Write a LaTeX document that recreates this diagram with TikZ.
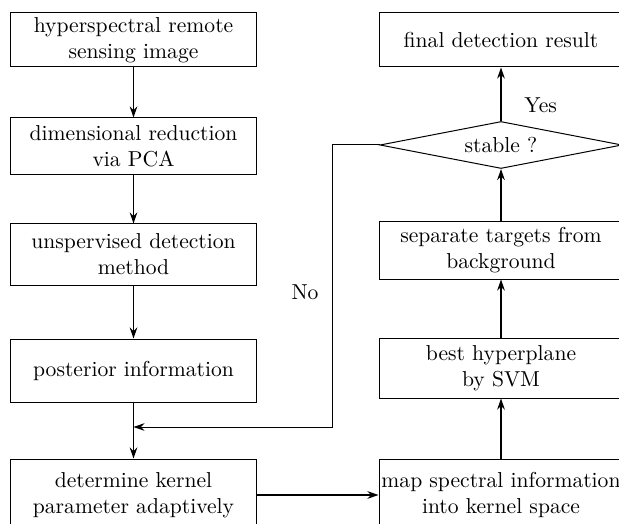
\documentclass[tikz,border=0pt]{standalone}
\usetikzlibrary{shapes.geometric,arrows.meta}

\begin{document}
\begin{tikzpicture}[x=0.5pt,y=-0.5pt,font=\fontsize{10.8}{13}\selectfont,
    box/.style={draw,line width=0.5pt,minimum width=123pt,align=center,inner xsep=0.5pt,inner ysep=2pt},
    decision/.style={draw,diamond,line width=0.5pt,minimum width=121pt,minimum height=23.5pt,inner sep=0pt,aspect=5},
    arr/.style={line width=0.75pt,-{Stealth[length=5.5pt,width=3.8pt]}}]
        \useasboundingbox (0,0) rectangle (619,523);

        % Left column
        \node[box,minimum height=27pt] (image) at (133.5,40) {hyperspectral remote\\sensing image};
        \node[box,minimum height=28.5pt] (pca) at (133.5,146.5) {dimensional reduction\\via PCA};
        \node[box,minimum height=30.5pt] (unsup) at (133.5,254.5) {unspervised detection\\method};
        \node[box,minimum height=31.5pt] (post) at (133.5,370.5) {posterior information};
        \node[box,minimum height=36pt] (kernel) at (133.5,495) {determine kernel\\parameter adaptively};

        % Right column
        \node[box,minimum height=27pt,minimum width=122pt] (final) at (501,40) {final detection result};
        \node[decision] (stable) at (501,145) {stable ?};
        \node[box,minimum height=28.5pt,minimum width=122pt] (sep) at (501,250.5) {separate targets from\\background};
        \node[box,minimum height=30pt,minimum width=122pt] (svm) at (501,368) {best hyperplane\\by SVM};
        \node[box,minimum height=36pt,minimum width=122pt] (map) at (501,495) {map spectral information\\into kernel space};

        % Loop points
        \coordinate (merge) at (133.5,427);
        \coordinate (turn) at (332,427);

        % Arrows
        \draw[arr] (image) -- (pca);
        \draw[arr] (pca) -- (unsup);
        \draw[arr] (unsup) -- (post);
        \draw[arr] (post) -- (kernel);
        \draw[arr] (kernel) -- (map);
        \draw[arr] (map) -- (svm);
        \draw[arr] (svm) -- (sep);
        \draw[arr] (sep) -- (stable);
        \draw[arr] (stable) -- (final) node[pos=0.3, right=8pt] {Yes};
        \draw[arr,line width=0.5pt] (stable.west) -| (turn) -- (merge);

        % Labels
        \node (no) at (305,292) {No};
      \end{tikzpicture}
\end{document}
